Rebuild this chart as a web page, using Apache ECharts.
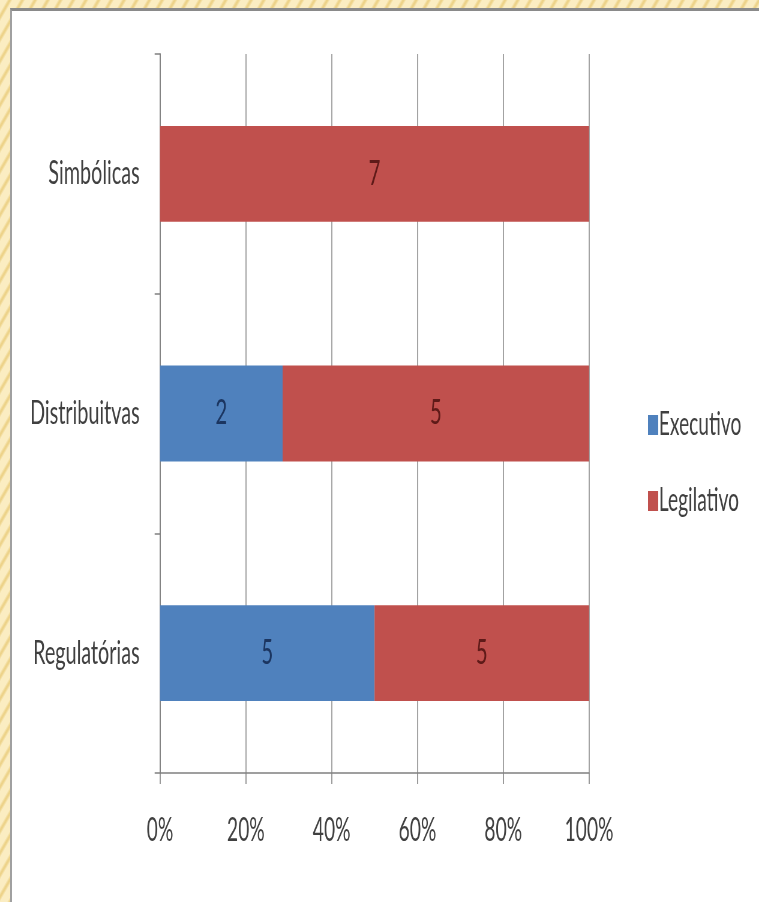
<!DOCTYPE html>
<html>
<head>
<meta charset="utf-8">
<script src="https://cdn.jsdelivr.net/npm/echarts@6/dist/echarts.min.js"></script>
<style>
  html, body { margin: 0; padding: 0; width: 759px; height: 902px; overflow: hidden; }
  body {
    background-color: #F8E6B0;
    background-image: repeating-linear-gradient(120deg, #FBEDC2 0px, #FBEDC2 6px, #EDD38A 8px, #EDD38A 9px, #FBEDC2 11px);
    position: relative;
  }
  #panel {
    position: absolute; left: 10px; top: 8px; width: 760px; height: 900px;
    background: #ffffff; border-top: 3px solid #8a8a8a; border-left: 2px solid #a0a0a0;
  }
  #chart {
    position: absolute; left: 0; top: 0; width: 1265px; height: 902px;
    transform: scaleX(0.6); transform-origin: 0 0;
  }
</style>
</head>
<body>
<div id="panel"></div>
<div id="chart"></div>
<script>
// Data
const categories = ['Regulatórias', 'Distribuitvas', 'Simbólicas'];
const executivo = [5, 2, 0];
const legilativo = [5, 5, 7];
const seriesNames = ['Executivo', 'Legilativo'];
const xTicks = [0, 20, 40, 60, 80, 100];

const totals = categories.map((c, i) => executivo[i] + legilativo[i]);
const execPct = executivo.map((v, i) => v / totals[i] * 100);
const legPct = legilativo.map((v, i) => v / totals[i] * 100);

const FONT = 'Lato, "Open Sans", sans-serif';
const chart = echarts.init(document.getElementById('chart'), null, { renderer: 'canvas' });

chart.setOption({
  animation: false,
  backgroundColor: 'transparent',
  textStyle: { fontFamily: FONT },
  grid: { left: 266.7, right: 283.3, top: 54, bottom: 129, containLabel: false },
  legend: {
    orient: 'vertical',
    left: 1075,
    top: 404,
    itemWidth: 17,
    itemHeight: 20,
    itemGap: 44,
    icon: 'rect',
    data: seriesNames,
    textStyle: { fontFamily: FONT, fontSize: 32, color: '#404040', lineHeight: 32, padding: [0, 0, 0, -4] }
  },
  xAxis: {
    type: 'value',
    min: xTicks[0],
    max: xTicks[xTicks.length - 1],
    interval: 20,
    axisLine: { show: true, lineStyle: { color: '#808080', width: 1.5 } },
    axisTick: { show: true, length: 11, lineStyle: { color: '#808080', width: 1.6 } },
    splitLine: { show: true, lineStyle: { color: '#8c8c8c', width: 1.6 } },
    axisLabel: {
      formatter: '{value}%', fontFamily: FONT, fontSize: 32, color: '#404040', margin: 42
    }
  },
  yAxis: {
    type: 'category',
    data: categories,
    axisLine: { show: true, lineStyle: { color: '#808080', width: 1.8 } },
    axisTick: { show: true, length: 9, lineStyle: { color: '#808080', width: 1.5 } },
    axisLabel: { fontFamily: FONT, fontSize: 33, color: '#404040', margin: 34 }
  },
  series: [
    {
      name: seriesNames[0],
      type: 'bar',
      stack: 'total',
      barWidth: '40%',
      itemStyle: { color: '#4F81BD' },
      label: {
        show: true, position: 'inside', fontFamily: FONT, fontSize: 34, color: '#1B3560',
        formatter: p => executivo[p.dataIndex] > 0 ? String(executivo[p.dataIndex]) : ''
      },
      data: execPct
    },
    {
      name: seriesNames[1],
      type: 'bar',
      stack: 'total',
      barWidth: '40%',
      itemStyle: { color: '#C0504D' },
      label: {
        show: true, position: 'inside', fontFamily: FONT, fontSize: 34, color: '#5E1A18',
        formatter: p => legilativo[p.dataIndex] > 0 ? String(legilativo[p.dataIndex]) : ''
      },
      data: legPct
    }
  ]
});
</script>
</body>
</html>
